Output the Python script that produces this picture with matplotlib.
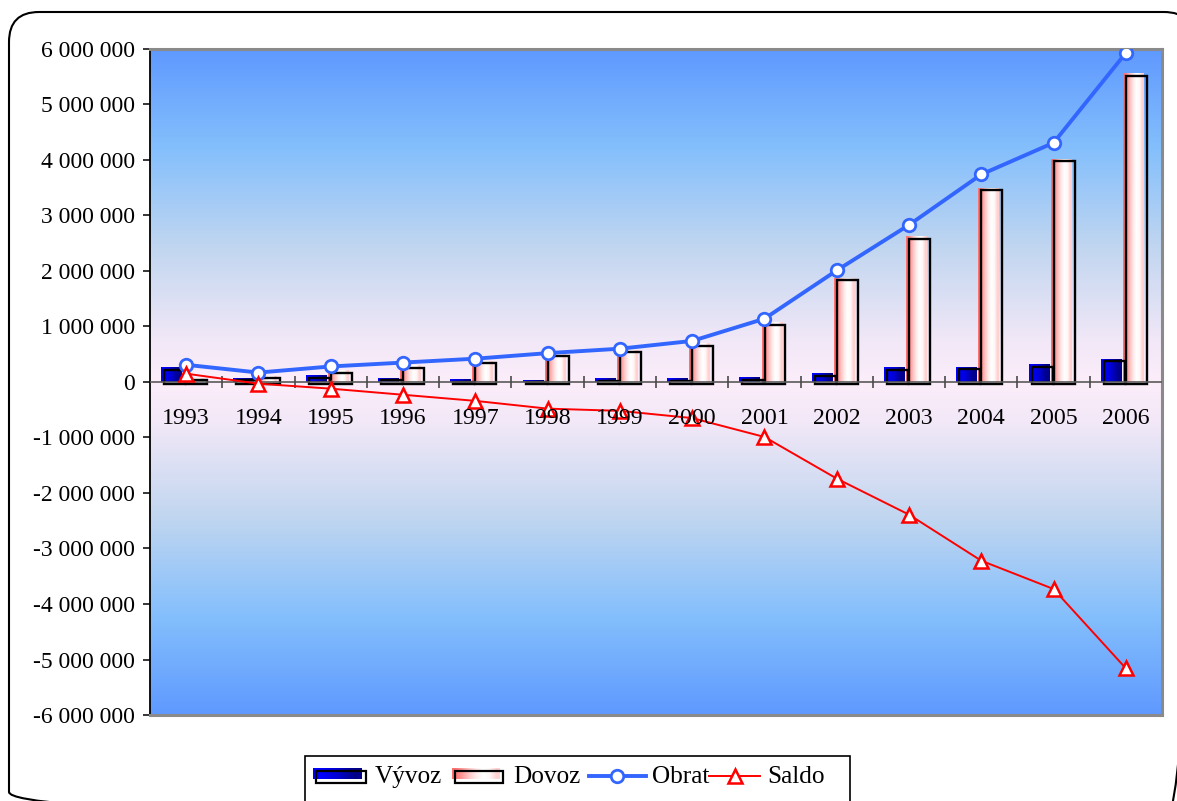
import numpy as np
import matplotlib
matplotlib.use("Agg")
import matplotlib.pyplot as plt
from matplotlib.patches import Rectangle, FancyBboxPatch
from matplotlib.ticker import FuncFormatter
import matplotlib.transforms as mtransforms

plt.rcParams['font.family'] = ['Liberation Serif', 'DejaVu Serif']

# ---- data -------------------------------------------------------------
years = [1993, 1994, 1995, 1996, 1997, 1998, 1999, 2000, 2001, 2002, 2003, 2004, 2005, 2006]
vyvoz = [260000, 70000, 110000, 70000, 40000, 30000, 60000, 60000, 80000, 150000, 260000, 270000, 310000, 410000]
dovoz = [70000, 100000, 200000, 290000, 370000, 500000, 570000, 690000, 1070000, 1870000, 2620000, 3490000, 4010000, 5550000]
obrat = [310000, 170000, 280000, 350000, 420000, 520000, 600000, 740000, 1140000, 2010000, 2830000, 3740000, 4310000, 5930000]
saldo = [150000, -30000, -120000, -230000, -340000, -480000, -520000, -650000, -990000, -1740000, -2390000, -3220000, -3730000, -5160000]

series_names = ["Vývoz", "Dovoz", "Obrat", "Saldo"]
y_ticks = list(range(-6000000, 6000001, 1000000))

W, H = 1177, 801
fig = plt.figure(figsize=(W / 100, H / 100), dpi=100)
fig.patch.set_facecolor("white")

left, right, top, bottom = 150, 1162, 49, 715
ax = fig.add_axes([left / W, 1 - bottom / H, (right - left) / W, (bottom - top) / H])
ax.set_xlim(-0.5, len(years) - 0.5)
ax.set_ylim(-6000000, 6000000)

# background: blue at the edges fading to a pale pink at the zero line
stops_t = [0.0, 0.12, 0.4, 0.7, 1.0]
stops_c = np.array([[0.99, 0.93, 0.98],
                    [0.95, 0.91, 0.97],
                    [0.76, 0.84, 0.94],
                    [0.52, 0.75, 0.99],
                    [0.37, 0.60, 1.00]])
t = np.abs(np.linspace(-1, 1, 600))
bg = np.stack([np.interp(t, stops_t, stops_c[:, k]) for k in range(3)], axis=1)
ax.imshow(bg[:, None, :], extent=[-0.5, len(years) - 0.5, -6000000, 6000000],
          origin="lower", aspect="auto", zorder=0, interpolation="bilinear")

# gradient swatches for the bars
blue_grad = np.array([[0.0, 0.0, 1.0], [0.0, 0.0, 0.82], [0.0, 0.0, 0.55]])[None, :, :]
pink_grad = np.array([[1.0, 0.45, 0.45], [1.0, 0.60, 0.60], [1.0, 0.78, 0.78],
                      [1.0, 0.92, 0.92], [1.0, 1.0, 1.0], [1.0, 0.97, 0.97],
                      [1.0, 0.82, 0.82]])[None, :, :]

outline_tr = mtransforms.offset_copy(ax.transData, fig=fig, x=3, y=-2, units="dots")
bw = 0.29
for i in range(len(years)):
    for x0, val, grad in ((i - 0.345, vyvoz[i], blue_grad), (i - 0.04, dovoz[i], pink_grad)):
        ax.imshow(grad, extent=[x0, x0 + bw, 0, val], aspect="auto",
                  interpolation="bilinear", zorder=2)
        ax.add_patch(Rectangle((x0, 0), bw, val, fill=False, edgecolor="black",
                               lw=1.7, transform=outline_tr, zorder=3))

ax.set_xlim(-0.5, len(years) - 0.5)
ax.set_ylim(-6000000, 6000000)

# zero line with category separators
ax.axhline(0, color="#5a5a5a", lw=1.2, zorder=4)
ax.plot(np.arange(len(years) - 1) + 0.5, np.zeros(len(years) - 1), linestyle="none",
        marker="|", ms=9, mew=1.2, color="#4a4a4a", zorder=4)

x = np.arange(len(years))
ax.plot(x, obrat, color="#3366FF", lw=2.8, marker="o", ms=9, mfc="white",
        mec="#3366FF", mew=2, zorder=6)
ax.plot(x, saldo, color="#FF0000", lw=1.4, marker="^", ms=10, mfc="white",
        mec="#FF0000", mew=1.8, zorder=7)

for i, yr in enumerate(years):
    ax.annotate(str(yr), xy=(i, 0), xytext=(0, -26), textcoords="offset points",
                ha="center", va="center", fontsize=17.2, zorder=8)

ax.set_xticks([])
ax.set_yticks(y_ticks)
ax.yaxis.set_major_formatter(FuncFormatter(lambda v, p: f"{int(v):,}".replace(",", " ")))
ax.tick_params(axis="y", direction="out", length=5, width=1.1, pad=6, labelsize=17)
ax.spines["left"].set_color("black")
ax.spines["left"].set_linewidth(1.3)
for s in ("top", "right", "bottom"):
    ax.spines[s].set_color("#8a8a8a")
    ax.spines[s].set_linewidth(2.2)

# ---- overlay in pixel coordinates: frame and legend -------------------
ov = fig.add_axes([0, 0, 1, 1])
ov.set_xlim(0, W)
ov.set_ylim(H, 0)
ov.axis("off")

ov.add_patch(FancyBboxPatch((9, 12), 1185, 810, boxstyle="round,pad=0,rounding_size=30",
                            fill=False, edgecolor="black", lw=1.5))

ov.add_patch(Rectangle((305, 756), 545, 60, facecolor="white", edgecolor="black", lw=1.2))

# Vývoz swatch
ov.imshow(blue_grad, extent=[313, 362, 779, 768], aspect="auto", interpolation="bilinear", zorder=3)
ov.add_patch(Rectangle((316, 771), 50, 12, fill=False, edgecolor="black", lw=1.6, zorder=4))
# Dovoz swatch
ov.imshow(pink_grad, extent=[452, 500, 779, 768], aspect="auto", interpolation="bilinear", zorder=3)
ov.add_patch(Rectangle((455, 771), 48, 12, fill=False, edgecolor="black", lw=1.6, zorder=4))
# Obrat and Saldo keys
ov.plot([589, 646], [776, 776], color="#3366FF", lw=2.8, zorder=3)
ov.plot([617], [776], marker="o", ms=9, mfc="white", mec="#3366FF", mew=2, zorder=4)
ov.plot([709, 760], [776, 776], color="#FF0000", lw=1.4, zorder=3)
ov.plot([735], [776], marker="^", ms=10, mfc="white", mec="#FF0000", mew=1.8, zorder=4)

for xpos, name in zip([375, 513, 652, 767], series_names):
    ov.text(xpos, 777, name, ha="left", va="center", fontsize=18.2)

ov.set_xlim(0, W)
ov.set_ylim(H, 0)

fig.savefig("out.png", dpi=100)
